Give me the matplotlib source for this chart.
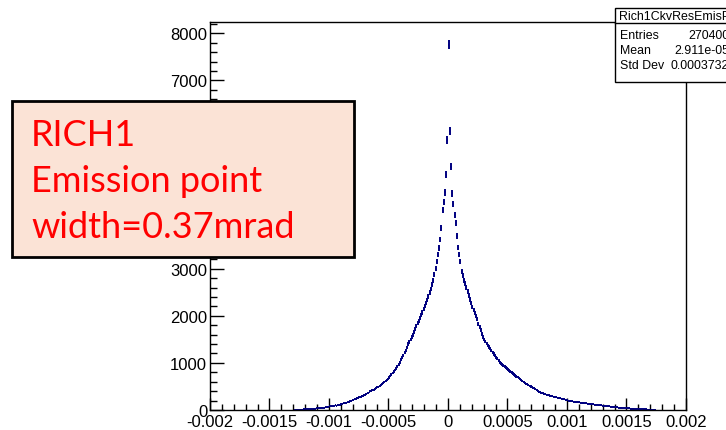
import numpy as np
import matplotlib.pyplot as plt
from matplotlib.patches import Rectangle
from matplotlib.ticker import MultipleLocator, FixedLocator, FixedFormatter

# histogram binning: 400 bins over [-0.002, 0.002]
x_lo, x_hi, nbins = -0.002, 0.002, 400
first_bin = 70   # first filled bin (left tail)

# bin contents, left tail up to the bin just below zero
counts_left = [
    0, 1, 2, 3, 5, 6, 8, 9, 11, 13,
    16, 18, 17, 21, 23, 22, 26, 29, 28, 32,
    35, 38, 37, 42, 47, 45, 52, 57, 60, 68,
    75, 78, 84, 82, 90, 96, 94, 104, 110, 116,
    130, 134, 142, 147, 155, 162, 170, 184, 197, 203,
    215, 228, 236, 255, 256, 272, 280, 293, 298, 315,
    322, 335, 352, 370, 395, 402, 418, 430, 445, 462,
    480, 498, 515, 535, 552, 570, 592, 612, 640, 660,
    690, 720, 750, 782, 815, 850, 888, 925, 965, 1010,
    1065, 1110, 1160, 1215, 1270, 1330, 1400, 1450, 1500, 1545,
    1600, 1655, 1715, 1780, 1840, 1895, 1960, 2010, 2070, 2140,
    2205, 2270, 2340, 2415, 2490, 2570, 2660, 2760, 2870, 3000,
    3150, 3300, 3440, 3620, 3860, 4240, 4420, 4620, 4995, 5735,
]
# bin contents from zero upwards
counts_right = [
    7760, 5925, 5164, 4600, 4380, 4148, 3980, 3700, 3450, 3300,
    3160, 2950, 2850, 2760, 2680, 2600, 2520, 2430, 2350, 2270,
    2190, 2120, 2060, 2000, 1940, 1830, 1760, 1690, 1620, 1555,
    1500, 1455, 1415, 1375, 1340, 1300, 1260, 1225, 1190, 1155,
    1120, 1085, 1050, 1015, 990, 965, 940, 918, 895, 875,
    855, 835, 815, 797, 775, 755, 735, 715, 697, 680,
    660, 640, 612, 590, 575, 560, 545, 530, 515, 500,
    487, 472, 458, 445, 420, 405, 390, 378, 366, 355,
    345, 336, 328, 320, 312, 305, 298, 291, 285, 279,
    273, 268, 262, 256, 250, 244, 236, 228, 220, 212,
    204, 197, 193, 188, 184, 180, 176, 172, 168, 164,
    160, 157, 154, 150, 147, 143, 140, 136, 133, 130,
    126, 122, 118, 114, 111, 108, 105, 101, 98, 95,
    92, 88, 85, 82, 79, 76, 73, 70, 67, 64,
    61, 58, 55, 52, 50, 47, 45, 43, 41, 39,
    37, 35, 33, 31, 29, 28, 26, 24, 22, 21,
    19, 18, 16, 15, 14, 12, 11, 10, 9, 8,
    6, 5, 4, 3, 2,
]

xtick_vals = [-0.002, -0.0015, -0.001, -0.0005, 0, 0.0005, 0.001, 0.0015, 0.002]
xtick_labels = ['-0.002', '-0.0015', '-0.001', '-0.0005', '0',
                '0.0005', '0.001', '0.0015', '0.002']

stats_name = 'Rich1CkvResEmisPt'
stats_rows = [('Entries', '270400'), ('Mean', '2.911e-05'), ('Std Dev', '0.0003732')]
note_lines = ['RICH1', 'Emission point', 'width=0.37mrad']

plt.rcParams['font.family'] = ['Liberation Sans', 'DejaVu Sans']

W, H = 726, 431
fig = plt.figure(figsize=(W / 100, H / 100), dpi=100)


def fx(px):
    return px / W


def fy(py):
    return 1 - py / H


ax = fig.add_axes([fx(210), fy(411), fx(686) - fx(210), fy(23) - fy(411)])

counts = np.zeros(nbins)
counts[first_bin:first_bin + len(counts_left)] = counts_left
counts[nbins // 2:nbins // 2 + len(counts_right)] = counts_right
edges = np.linspace(x_lo, x_hi, nbins + 1)
centers = 0.5 * (edges[:-1] + edges[1:])
half_w = 0.5 * (edges[1] - edges[0])
filled = counts > 0

ax.errorbar(centers[filled], counts[filled], xerr=half_w,
            yerr=np.sqrt(counts[filled]), fmt='none',
            ecolor='#000080', elinewidth=1.4, capsize=0)

ax.set_xlim(x_lo, x_hi)
ax.set_ylim(0, 1.05 * (counts.max() + np.sqrt(counts.max())))

ax.xaxis.set_major_locator(FixedLocator(xtick_vals))
ax.xaxis.set_major_formatter(FixedFormatter(xtick_labels))
ax.xaxis.set_minor_locator(MultipleLocator(0.0001))
ax.yaxis.set_major_locator(MultipleLocator(1000))
ax.yaxis.set_minor_locator(MultipleLocator(200))

ax.tick_params(which='both', direction='in', top=False, right=False,
               width=1, labelsize=12, colors='black')
ax.tick_params(axis='x', which='major', length=8.4, pad=3)
ax.tick_params(axis='x', which='minor', length=4.2)
ax.tick_params(axis='y', which='major', length=10, pad=2)
ax.tick_params(axis='y', which='minor', length=5)
for spine in ax.spines.values():
    spine.set_linewidth(1)

# statistics box, running off the right edge
fig.add_artist(Rectangle((fx(615), fy(83)), fx(760) - fx(615), fy(9) - fy(83),
                         transform=fig.transFigure, facecolor='white',
                         edgecolor='black', linewidth=1, zorder=5))
fig.add_artist(plt.Line2D([fx(615), fx(760)], [fy(24), fy(24)],
                          transform=fig.transFigure, color='black',
                          linewidth=1, zorder=6))
fig.text(fx(619), fy(16.5), stats_name, fontsize=8.9, va='center', ha='left', zorder=7)
for i, (key, val) in enumerate(stats_rows):
    yy = fy(36 + 15 * i)
    fig.text(fx(620), yy, key, fontsize=8.9, va='center', ha='left', zorder=7)
    fig.text(fx(729), yy, val, fontsize=8.9, va='center', ha='right', zorder=7)

# annotation box
fig.add_artist(Rectangle((fx(12), fy(258)), fx(354) - fx(12), fy(102) - fy(258),
                         transform=fig.transFigure, facecolor='#fbe3d6',
                         edgecolor='black', linewidth=2, zorder=5))
for i, line in enumerate(note_lines):
    fig.text(fx(31), fy(136 + 46 * i), line, fontsize=26, color='#ff0000',
             family=['Lato', 'DejaVu Sans'], va='center', ha='left', zorder=7)

fig.savefig('out.png', dpi=100)
